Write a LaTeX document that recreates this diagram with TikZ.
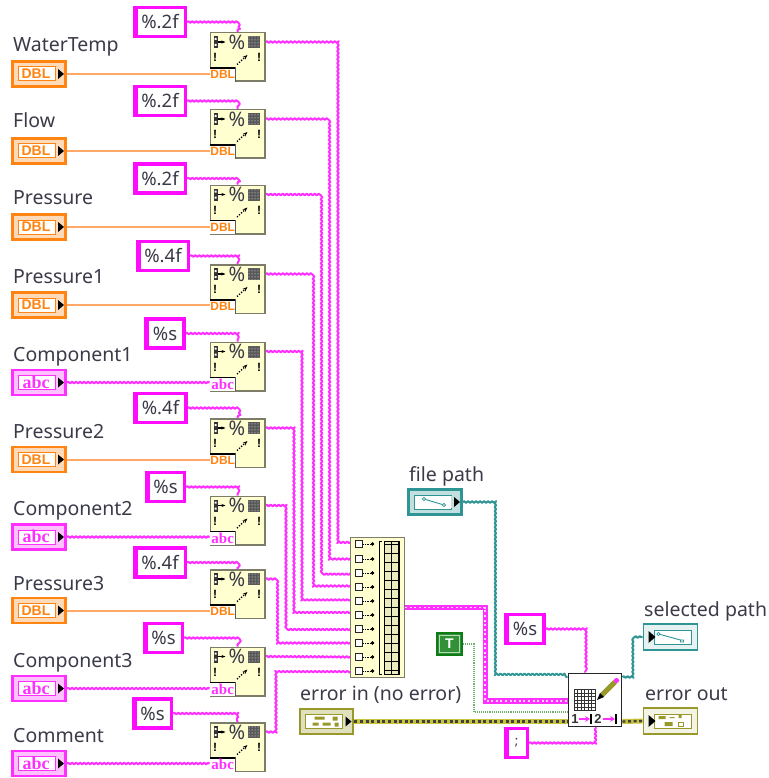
\documentclass[tikz,border=0pt]{standalone}
\usepackage{fontspec}
\setmainfont{Noto Sans}
\newfontfamily\abcfont{Liberation Serif}
\newfontfamily\dblfont{Liberation Sans}
\usepackage{tikz}
\usetikzlibrary{
  arrows.meta,
  backgrounds,
  patterns,
  decorations.pathmorphing
}
\definecolor{StrPink}{HTML}{FF30FF}
\definecolor{ConstPink}{HTML}{FF0CFF}
\definecolor{DblOrange}{HTML}{FF8412}
\definecolor{DblWire}{HTML}{FFA868}
\definecolor{PathTeal}{HTML}{2F9494}
\definecolor{ErrOlive}{HTML}{99992B}
\definecolor{ErrYellow}{HTML}{C9C53A}
\definecolor{BoolGreen}{HTML}{0E7C14}
\definecolor{FrameGrey}{HTML}{7C7C68}
\definecolor{VIYellow}{HTML}{FFFFCF}
\definecolor{TextGrey}{HTML}{3A3A48}

\begin{document}
\begin{tikzpicture}[
  x=1pt, y=-1pt,
  vilabel/.style  = {anchor=base west, inner sep=0pt, text=TextGrey, font=\fontsize{19.5}{22}\selectfont},
  strconst/.style = {draw=ConstPink, line width=3.2pt, fill=white, minimum width=51pt,
                     minimum height=29pt, inner sep=0pt, text=TextGrey,
                     font=\fontsize{18.5}{20}\selectfont,
                     path picture={\fill[ConstPink] (path picture bounding box.north west)
                       rectangle ([xshift=3pt]path picture bounding box.south west);}},
  ctrl/.style 2 args = {draw=#1, line width=2.8pt, fill=#1!30, minimum width=53pt,
                     minimum height=25pt, inner sep=0pt,
                     path picture={\draw[#1, fill=white, line width=1pt] (-21,-7) rectangle (16,7);
                       #2
                       \fill[black] (19,-5) -- (25,0) -- (19,5) -- cycle;}},
  dblctl/.style   = {ctrl={DblOrange}{\node[text=DblOrange, font=\dblfont\fontsize{14}{16}\bfseries] at (-3,0) {DBL};}},
  abcctl/.style   = {ctrl={StrPink}{\node[text=StrPink, font=\abcfont\fontsize{18}{18}\bfseries] at (-3,-0.5) {abc};}},
  indic/.style 2 args = {draw=#1, line width=1.8pt, fill=#1!12, minimum width=54pt,
                     minimum height=26pt, inner sep=0pt,
                     path picture={\draw[#1, fill=white, line width=1pt] (-16,-7) rectangle (21,7);
                       #2
                       \fill[black] (-22,-6) -- (-15,0) -- (-22,6) -- cycle;}},
  fmtvi/.style    = {draw=FrameGrey, line width=1.5pt, fill=VIYellow, minimum width=54.5pt,
                     minimum height=48.5pt, inner sep=0pt,
                     path picture={
                       \fill[black!80] (-24,-21) rectangle (-20,-9);
                       \fill[white] (-23,-19) rectangle (-21,-17) (-23,-13) rectangle (-21,-11);
                       \draw[black, line width=1.2pt, -{Stealth[length=4pt]}] (-20,-15) -- (-12,-15);
                       \node[text=TextGrey, font=\fontsize{20}{22}\selectfont] at (-0.5,-15) {\%};
                       \fill[black!65] (10.5,-21) rectangle (22,-9);
                       \fill[pattern=dots, pattern color=white] (10.5,-21) rectangle (22,-9);
                       \node[text=black, font=\dblfont\fontsize{12}{12}\bfseries] at (-22.5,0.5) {!};
                       \node[text=black, font=\dblfont\fontsize{12}{12}\bfseries] at (21.5,0.5) {!};
                       \draw[black, line width=1.4pt, dash pattern=on 1.2pt off 1.6pt, -{Stealth[length=5pt]}] (-0.5,7.5) -- (10,-2);}},
  dbltag/.style   = {anchor=south west, fill=white, minimum width=26pt, minimum height=14pt,
                     inner sep=0pt, text=DblOrange, font=\dblfont\fontsize{12}{13}\bfseries,
                     path picture={\draw[black, line width=2pt]
                       (path picture bounding box.north west) -| (path picture bounding box.south east);}},
  abctag/.style   = {dbltag, text=StrPink, font=\abcfont\fontsize{15}{15}\bfseries},
  conport/.style  = {draw=black!85, line width=1.4pt, fill=white, minimum size=7pt, inner sep=0pt,
                     append after command={(\tikzlastnode.east) edge[black, densely dotted, line width=.7pt,
                       -{Circle[length=3.5pt]}] ++(11,0)}},
  strwire/.style  = {StrPink, line width=2pt, line join=round, decorate,
                     decoration={snake, amplitude=.8pt, segment length=4pt}},
  dblwire/.style  = {DblWire, line width=2pt},
  arrwire/.style  = {white!80!StrPink, line width=1.9pt, dash pattern=on 2pt off 2.6pt,
                     preaction={draw, StrPink, line width=5.4pt, solid}},
  pathwire/.style = {PathTeal, line width=2pt, line join=round, decorate,
                     decoration={snake, amplitude=.8pt, segment length=4pt}},
  boolwire/.style = {BoolGreen!60, line width=1.1pt, densely dotted},
  errwire/.style  = {black!75, line width=2.4pt, dash pattern=on 3pt off 2.6pt,
                     preaction={draw, ErrYellow, line width=5pt, solid}}
]
  \useasboundingbox (0,0) rectangle (768,778);

  % Controls and their captions
  \node[vilabel] (lbl1) at (13,52) {WaterTemp};
  \node[dblctl] (ctl1) at (39,74) {};
  \node[vilabel] (lbl2) at (13,128) {Flow};
  \node[dblctl] (ctl2) at (39,151) {};
  \node[vilabel] (lbl3) at (13,204) {Pressure};
  \node[dblctl] (ctl3) at (39,227) {};
  \node[vilabel] (lbl4) at (13,283) {Pressure1};
  \node[dblctl] (ctl4) at (39,305) {};
  \node[vilabel] (lbl5) at (13,361) {Component1};
  \node[abcctl] (ctl5) at (39,382.5) {};
  \node[vilabel] (lbl6) at (13,438) {Pressure2};
  \node[dblctl] (ctl6) at (39,459.5) {};
  \node[vilabel] (lbl7) at (13,515) {Component2};
  \node[abcctl] (ctl7) at (39,537) {};
  \node[vilabel] (lbl8) at (13,590) {Pressure3};
  \node[dblctl] (ctl8) at (39,610.5) {};
  \node[vilabel] (lbl9) at (13,667) {Component3};
  \node[abcctl] (ctl9) at (39,688.5) {};
  \node[vilabel] (lbl10) at (13,742) {Comment};
  \node[abcctl] (ctl10) at (39,763.5) {};

  % Format strings
  \node[strconst] (fs1) at (160,22) {\%.2f};
  \node[strconst] (fs2) at (160,101) {\%.2f};
  \node[strconst] (fs3) at (160,178.5) {\%.2f};
  \node[strconst] (fs4) at (163,256) {\%.4f};
  \node[strconst, minimum width=38pt] (fs5) at (165,333.5) {\%s};
  \node[strconst] (fs6) at (160.5,408) {\%.4f};
  \node[strconst, minimum width=38pt] (fs7) at (165.5,487) {\%s};
  \node[strconst] (fs8) at (160,562.5) {\%.4f};
  \node[strconst, minimum width=38pt] (fs9) at (163.5,638) {\%s};
  \node[strconst, minimum width=38pt] (fs10) at (152.5,713.5) {\%s};

  % Format Into String functions
  \node[fmtvi] (fmt1) at (237.5,57) {};
  \node[dbltag] (tag1) at (fmt1.south west) {DBL};
  \node[fmtvi] (fmt2) at (237.5,134) {};
  \node[dbltag] (tag2) at (fmt2.south west) {DBL};
  \node[fmtvi] (fmt3) at (237.5,209.5) {};
  \node[dbltag] (tag3) at (fmt3.south west) {DBL};
  \node[fmtvi] (fmt4) at (237.5,289) {};
  \node[dbltag] (tag4) at (fmt4.south west) {DBL};
  \node[fmtvi] (fmt5) at (237.5,366.5) {};
  \node[abctag] (tag5) at (fmt5.south west) {abc};
  \node[fmtvi] (fmt6) at (237.5,443) {};
  \node[dbltag] (tag6) at (fmt6.south west) {DBL};
  \node[fmtvi] (fmt7) at (237.5,520.5) {};
  \node[abctag] (tag7) at (fmt7.south west) {abc};
  \node[fmtvi] (fmt8) at (237.5,594) {};
  \node[dbltag] (tag8) at (fmt8.south west) {DBL};
  \node[fmtvi] (fmt9) at (237.5,671.5) {};
  \node[abctag] (tag9) at (fmt9.south west) {abc};
  \node[fmtvi] (fmt10) at (237.5,747) {};
  \node[abctag] (tag10) at (fmt10.south west) {abc};

  % Concatenate Strings
  \node[draw=FrameGrey, line width=1.5pt, fill=VIYellow, minimum width=54pt, minimum height=140pt,
        path picture={
          \draw[black, line width=.8pt] (4,-66) -| (2,67) -- (4,67);
          \draw[black, line width=1.2pt, fill=VIYellow!92!black] (7,-66) rectangle (21.5,67);
          \draw[black, line width=1.2pt, y=1pt, xstep=7, ystep=9] (7,-67) grid (21.5,66);}] (concat) at (377.5,607.5) {};
  \node[conport] (in1) at (359,544) {};
  \node[conport] (in2) at (359,559) {};
  \node[conport] (in3) at (359,573) {};
  \node[conport] (in4) at (359,587) {};
  \node[conport] (in5) at (359,601) {};
  \node[conport] (in6) at (359,615) {};
  \node[conport] (in7) at (359,629) {};
  \node[conport] (in8) at (359,643) {};
  \node[conport] (in9) at (359,657) {};
  \node[conport] (in10) at (359,671) {};

  % Write To Spreadsheet File and its terminals
  \node[vilabel] (lblpath) at (409,481) {file path};
  \node[ctrl={PathTeal}{\draw[PathTeal, line width=.9pt] (-11,-3) -- (9,3);
        \fill[PathTeal!30] (16,-6) rectangle (24,6);
        \draw[PathTeal, fill=white, line width=.8pt] (-11,-3) circle (1.6) (9,3) circle (1.6);}] (fpath) at (435,502) {};
  \node[strconst, minimum width=38pt] (fs11) at (525,629) {\%s};
  \node[draw=BoolGreen, line width=2.4pt, fill=BoolGreen!85!white, minimum width=24.5pt, minimum height=21.5pt,
        inner sep=0pt, text=white, font=\dblfont\fontsize{14}{16}\bfseries,
        path picture={\draw[white!70!BoolGreen, line width=1pt] ([shift={(2.5,-2.5)}]path picture bounding box.south west)
          rectangle ([shift={(-2.5,2.5)}]path picture bounding box.north east);}] (boolt) at (449.5,644) {T};
  \node[vilabel] (lblerrin) at (300,700) {error in (no error)};
  \node[ctrl={ErrOlive}{\fill[ErrOlive] (-12,-5) rectangle (-2,-2) (-14,1) rectangle (-8,4) (-4,1) rectangle (4,4) (6,-5) rectangle (11,-1) (8,1) rectangle (12,5);}] (errin) at (326.5,721.5) {};
  \node[strconst, minimum width=22pt, font=\fontsize{13}{15}\selectfont] (fsep) at (516.5,743) {;};
  \node[draw=black!85, line width=1.8pt, fill=white, minimum width=53pt, minimum height=53pt,
        path picture={
          \draw[black!80, line width=1pt, y=1pt, step=3.5] (-21,-10.5) grid (0,10.5);
          \draw[black!80, line width=1pt] (-21,-10.5) rectangle (0,10.5);
          \draw[ErrOlive, line width=5pt] (7,-5) -- (20,-18);
          \fill[StrPink] (21.5,-19.5) circle (2.6);
          \fill[black] (2,0) -- (5,-7) -- (9,-3) -- cycle;
          \node[text=black!80, font=\dblfont\fontsize{13}{13}\bfseries] at (-20,19) {1};
          \draw[StrPink, line width=1.5pt, -{Stealth[length=5pt, width=6pt]}] (-16,19) -- (-5,19);
          \draw[black, line width=1.3pt] (-4,14) -- (-4,24);
          \node[text=black!80, font=\dblfont\fontsize{13}{13}\bfseries] at (3,19) {2};
          \draw[StrPink, line width=1.5pt, -{Stealth[length=5pt, width=6pt]}] (8,19) -- (20,19);
          \draw[black, line width=1.3pt] (21,14) -- (21,24);}] (wvi) at (595,700) {};
  \node[vilabel] (lblsel) at (644,616) {selected path};
  \node[indic={PathTeal}{\draw[PathTeal, line width=.9pt] (-12,-3) -- (10,3);
        \draw[PathTeal, fill=white, line width=.8pt] (-12,-3) circle (1.6) (10,3) rectangle (13,5);}] (selpath) at (670.5,637) {};
  \node[vilabel] (lblerrout) at (645,700) {error out};
  \node[indic={ErrOlive}{\fill[ErrOlive] (-12,-5) rectangle (-5,-2) (-1,-4) rectangle (4,-3) (8,-6) rectangle (11,-3) (-6,1) rectangle (2,5);
        \draw[ErrOlive, line width=.8pt] (8,1) rectangle (13,5);}] (errout) at (670.5,721) {};

  % Wires stay under the functions
  \begin{scope}[on background layer]
    % Format strings to functions
    \draw[strwire] (fs1.east) -| (fmt1.north);
    \draw[strwire] (fs2.east) -| (fmt2.north);
    \draw[strwire] (fs3.east) -| (fmt3.north);
    \draw[strwire] (fs4.east) -| (fmt4.north);
    \draw[strwire] (fs5.east) -| (fmt5.north);
    \draw[strwire] (fs6.east) -| (fmt6.north);
    \draw[strwire] (fs7.east) -| (fmt7.north);
    \draw[strwire] (fs8.east) -| (fmt8.north);
    \draw[strwire] (fs9.east) -| (fmt9.north);
    \draw[strwire] (fs10.east) -| (fmt10.north);

    % Controls to functions
    \draw[dblwire] (ctl1.east) -- (ctl1.east -| tag1.west);
    \draw[dblwire] (ctl2.east) -- (ctl2.east -| tag2.west);
    \draw[dblwire] (ctl3.east) -- (ctl3.east -| tag3.west);
    \draw[dblwire] (ctl4.east) -- (ctl4.east -| tag4.west);
    \draw[strwire] (ctl5.east) -- (ctl5.east -| tag5.west);
    \draw[dblwire] (ctl6.east) -- (ctl6.east -| tag6.west);
    \draw[strwire] (ctl7.east) -- (ctl7.east -| tag7.west);
    \draw[dblwire] (ctl8.east) -- (ctl8.east -| tag8.west);
    \draw[strwire] (ctl9.east) -- (ctl9.east -| tag9.west);
    \draw[strwire] (ctl10.east) -- (ctl10.east -| tag10.west);

    % Functions to Concatenate Strings
    \draw[strwire] ([yshift=15pt]fmt1.east) -- ++(72,0) |- (in1.west);
    \draw[strwire] ([yshift=15pt]fmt2.east) -- ++(63,0) |- (in2.west);
    \draw[strwire] ([yshift=15pt]fmt3.east) -- ++(54,0) |- (in3.west);
    \draw[strwire] ([yshift=15pt]fmt4.east) -- ++(46,0) |- (in4.west);
    \draw[strwire] ([yshift=15pt]fmt5.east) -- ++(37,0) |- (in5.west);
    \draw[strwire] ([yshift=15pt]fmt6.east) -- ++(28,0) |- (in6.west);
    \draw[strwire] ([yshift=15pt]fmt7.east) -- ++(20,0) |- (in7.west);
    \draw[strwire] ([yshift=15pt]fmt8.east) -- ++(11,0) |- (in8.west);
    \draw[strwire] ([yshift=15pt]fmt9.east) -- (in9.west);
    \draw[strwire] ([yshift=15pt]fmt10.east) -- ++(11,0) |- (in10.west);

    % Into the spreadsheet function
    \draw[arrwire] (concat.east) -- ++(80,0) |- ([yshift=-1pt]wvi.west);
    \draw[pathwire] (fpath.east) -- ++(32,0) |- ([yshift=23pt]wvi.west);
    \draw[pathwire] ([yshift=23pt]wvi.east) -- ++(11,0) |- (selpath.west);
    \draw[boolwire] (boolt.east) -- ++(11,0) |- ([yshift=-12pt]wvi.west);
    \draw[errwire] (errin.east) -- ([yshift=-21.5pt]wvi.west);
    \draw[errwire] ([yshift=-21.5pt]wvi.east) -- (errout.west);
    \draw[strwire] (fs11.east) -| (wvi.north -| 585,0);
    \draw[strwire] (fsep.east) -| (wvi.south -| 596,0);
  \end{scope}

\end{tikzpicture}
\end{document}
